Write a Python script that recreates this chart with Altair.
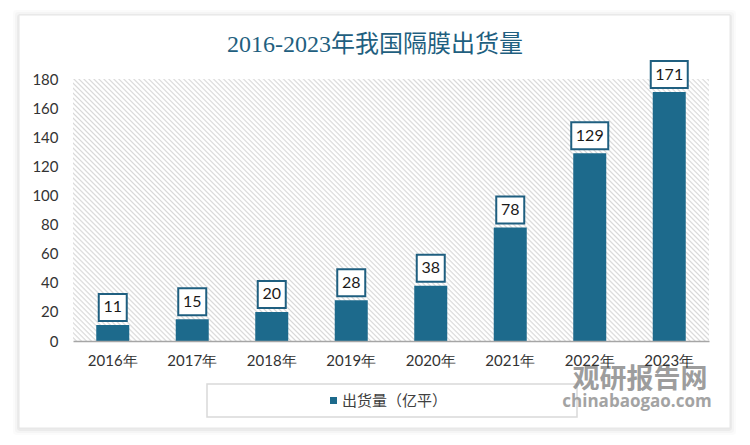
import altair as alt
import pandas as pd

# ---- data ----
years = ["2016年", "2017年", "2018年", "2019年", "2020年", "2021年", "2022年", "2023年"]
values = [11, 15, 20, 28, 38, 78, 129, 171]
y_ticks = [0, 20, 40, 60, 80, 100, 120, 140, 160, 180]
title_text = "2016-2023年我国隔膜出货量"
legend_label = "出货量（亿平）"
wm_cn = "观研报告网"
wm_en = "chinabaogao.com"

# ---- layout / style ----
W, H = 636, 262
BAR = "#1d6a8c"
DARK = "#1f5f80"
SANS = "Lato"
CJK = "Noto Sans CJK SC"

df = pd.DataFrame({"year": years, "value": values})
one = pd.DataFrame({"k": [0]})

# hatch pattern via a striped linear gradient (45 degree stripes)
a = H / W
k = (1 + a) / (1 + a * a)
n_stripes = 180
stops = []
for i in range(n_stripes):
    s = i / n_stripes
    e = (i + 1) / n_stripes
    stops += [
        alt.GradientStop(offset=s, color="#ffffff"),
        alt.GradientStop(offset=s + (e - s) * 0.35, color="#ffffff"),
        alt.GradientStop(offset=s + (e - s) * 0.7, color="#d8d8d8"),
    ]
stops.append(alt.GradientStop(offset=1, color="#ffffff"))
hatch_grad = alt.LinearGradient(gradient="linear", stops=stops,
                                x1=0, y1=1, x2=k, y2=1 - a * k)

x_axis = alt.Axis(title=None, labelAngle=0, ticks=False,
                  domainColor="#a6a6a6", domainWidth=1.5,
                  labelPadding=12, labelFontSize=15, labelFont=SANS,
                  labelColor="#333333", zindex=2)
y_axis = alt.Axis(values=y_ticks, title=None, grid=False, domain=False,
                  ticks=False, labelPadding=15, labelFontSize=15,
                  labelOverlap=False, labelFont=SANS,
                  labelColor="#333333", zindex=2)
x_scale = alt.Scale(paddingInner=0.585, paddingOuter=0.2925)
y_scale = alt.Scale(domain=[0, 180], nice=False)


def xe():
    return alt.X("year:N", sort=years, scale=x_scale, axis=x_axis)


def ye():
    return alt.Y("value:Q", scale=y_scale, axis=y_axis)


# card with soft shadow
shadows = [
    alt.Chart(one).mark_rect(fill="#000000", opacity=op, cornerRadius=3).encode(
        x=alt.value(-54 - d), x2=alt.value(657 + d),
        y=alt.value(-64 - d + 1), y2=alt.value(349 + d + 1))
    for d, op in [(6, 0.015), (4, 0.025), (2, 0.04)]
]
card = alt.Chart(one).mark_rect(fill="white", stroke="#e6e6e6", strokeWidth=1).encode(
    x=alt.value(-54), x2=alt.value(657), y=alt.value(-64), y2=alt.value(349))

hatch = alt.Chart(one).mark_rect(color=hatch_grad).encode(
    x=alt.value(0), x2=alt.value(W), y=alt.value(0), y2=alt.value(H))

bars = alt.Chart(df).mark_bar(color=BAR).encode(x=xe(), y=ye())

boxes = alt.Chart(df).transform_calculate(
    bw="length(toString(datum.value)) * 9 + 10"
).mark_bar(fill="white", stroke=DARK, strokeWidth=2, yOffset=-31, y2Offset=-4).encode(
    x=xe(),
    y=ye(),
    y2=alt.Y2("value"),
    size=alt.Size("bw:Q", scale=None, legend=None),
)

labels = alt.Chart(df).mark_text(dy=-17.5, baseline="middle", fontSize=16,
                                 font=SANS, color="#1a1a1a").encode(
    x=xe(), y=ye(), text=alt.Text("value:Q"))

# legend (drawn)
leg_box = alt.Chart(one).mark_rect(fill="white", stroke="#d9d9d9", strokeWidth=1.5).encode(
    x=alt.value(134), x2=alt.value(504), y=alt.value(305), y2=alt.value(338))
leg_sym = alt.Chart(one).mark_square(size=49, color=BAR, opacity=1).encode(
    x=alt.value(260.5), y=alt.value(321.5))
leg_txt = alt.Chart(one).mark_text(align="left", baseline="middle", fontSize=15,
                                   font=CJK, color="#404040").encode(
    x=alt.value(269), y=alt.value(321.5), text=alt.value(legend_label))

# watermark
wm1 = alt.Chart(one).mark_text(align="center", baseline="middle", fontSize=27,
                               fontWeight="bold", font=CJK, color="#8c8c8c",
                               opacity=0.85).encode(
    x=alt.value(567), y=alt.value(301), text=alt.value(wm_cn))
wm2 = alt.Chart(one).mark_text(align="center", baseline="middle", fontSize=17,
                               fontWeight="bold", font="Open Sans", color="#9a9a9a",
                               opacity=0.9).encode(
    x=alt.value(564), y=alt.value(323), text=alt.value(wm_en))

title = alt.Chart(one).mark_text(align="center", baseline="middle", fontSize=24,
                                 font='Liberation Serif, "Noto Sans CJK SC"',
                                 color=DARK).encode(
    x=alt.value(302), y=alt.value(-34), text=alt.value(title_text))

chart = alt.layer(
    *shadows, card, hatch, bars, boxes, labels, leg_box, leg_sym, leg_txt, wm1, wm2, title
).properties(
    width=W, height=H,
    autosize=alt.AutoSizeParams(type="none"),
    padding={"left": 73, "top": 79, "right": 41, "bottom": 104},
    background="#ffffff",
).configure_view(stroke=None)

chart.save("out.html", embed_options={"renderer": "svg", "actions": False})
